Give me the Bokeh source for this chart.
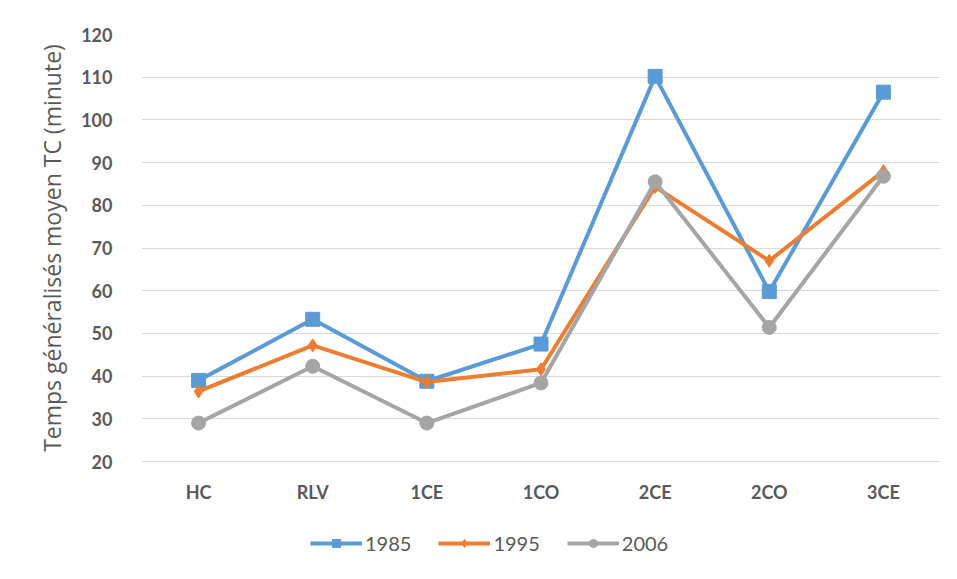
from bokeh.plotting import figure
from bokeh.layouts import column
from bokeh.models import Legend, LegendItem, FixedTicker, FactorRange, Range1d
from bokeh.embed import file_html
from bokeh.resources import INLINE

categories = ["HC", "RLV", "1CE", "1CO", "2CE", "2CO", "3CE"]
v1985 = [39.0, 53.3, 38.8, 47.5, 110.2, 59.8, 106.5]
v1995 = [36.4, 47.2, 38.6, 41.6, 84.3, 67.0, 88.0]
v2006 = [29.0, 42.3, 29.0, 38.4, 85.5, 51.4, 86.8]
series_names = ["1985", "1995", "2006"]
y_ticks = [20, 30, 40, 50, 60, 70, 80, 90, 100, 110, 120]
y_title = "Temps généralisés moyen TC (minute)"

colors = ["#5B9BD5", "#ED7D31", "#A5A5A5"]
FONT = "Lato"
TXT = "#595959"

p = figure(x_range=FactorRange(*categories, range_padding=0), y_range=Range1d(20, 120),
           width=957, height=520, output_backend="svg", toolbar_location=None,
           min_border_left=141, min_border_right=17, min_border_top=34, min_border_bottom=59)
p.outline_line_color = None
p.xgrid.grid_line_color = None
p.ygrid.grid_line_color = "#D9D9D9"
p.ygrid.grid_line_width = 1
p.yaxis.ticker = FixedTicker(ticks=y_ticks)
p.yaxis.axis_line_color = None
p.xaxis.axis_line_color = "#D9D9D9"
for ax in (p.xaxis, p.yaxis):
    ax.major_tick_line_color = None
    ax.minor_tick_line_color = None
    ax.major_label_text_font = FONT
    ax.major_label_text_font_style = "bold"
    ax.major_label_text_font_size = "18px"
    ax.major_label_text_color = TXT
p.xaxis.major_label_standoff = 13
p.yaxis.major_label_standoff = 23
p.yaxis.axis_label = y_title
p.yaxis.axis_label_text_font = "Open Sans"
p.yaxis.axis_label_text_font_style = "normal"
p.yaxis.axis_label_text_font_size = "23px"
p.yaxis.axis_label_text_color = TXT
p.yaxis.axis_label_standoff = 10

vals = [v1985, v1995, v2006]
markers = ["square", "diamond", "circle"]
sizes = [14, 13, 14]
for name, v, c, m, s in zip(series_names, vals, colors, markers, sizes):
    p.line(categories, v, line_color=c, line_width=4)
    p.scatter(categories, v, marker=m, size=s, fill_color=c, line_color=c)

# legend strip below the chart
p2 = figure(x_range=FactorRange(*categories, range_padding=0), y_range=Range1d(1000, 1001),
            width=957, height=59, output_backend="svg", toolbar_location=None,
            min_border_left=0, min_border_right=0, min_border_top=0, min_border_bottom=0)
p2.axis.visible = False
p2.grid.grid_line_color = None
p2.outline_line_color = None
items = []
for name, v, c, m, s in zip(series_names, vals, colors, markers, sizes):
    r1 = p2.line(categories, v, line_color=c, line_width=4)
    r2 = p2.scatter(categories, v, marker=m, size=s, fill_color=c, line_color=c)
    items.append(LegendItem(label=name, renderers=[r1, r2]))
legend = Legend(items=items, orientation="horizontal", location=(169, 24),
                label_text_font=FONT, label_text_font_size="20px", label_text_color=TXT,
                glyph_width=52, glyph_height=20, label_height=20, label_standoff=3,
                spacing=27, border_line_color=None,
                background_fill_alpha=0, margin=0, padding=0)
p2.add_layout(legend, "center")

layout = column(p, p2, spacing=0)
open("out.html", "w").write(file_html(layout, INLINE))
